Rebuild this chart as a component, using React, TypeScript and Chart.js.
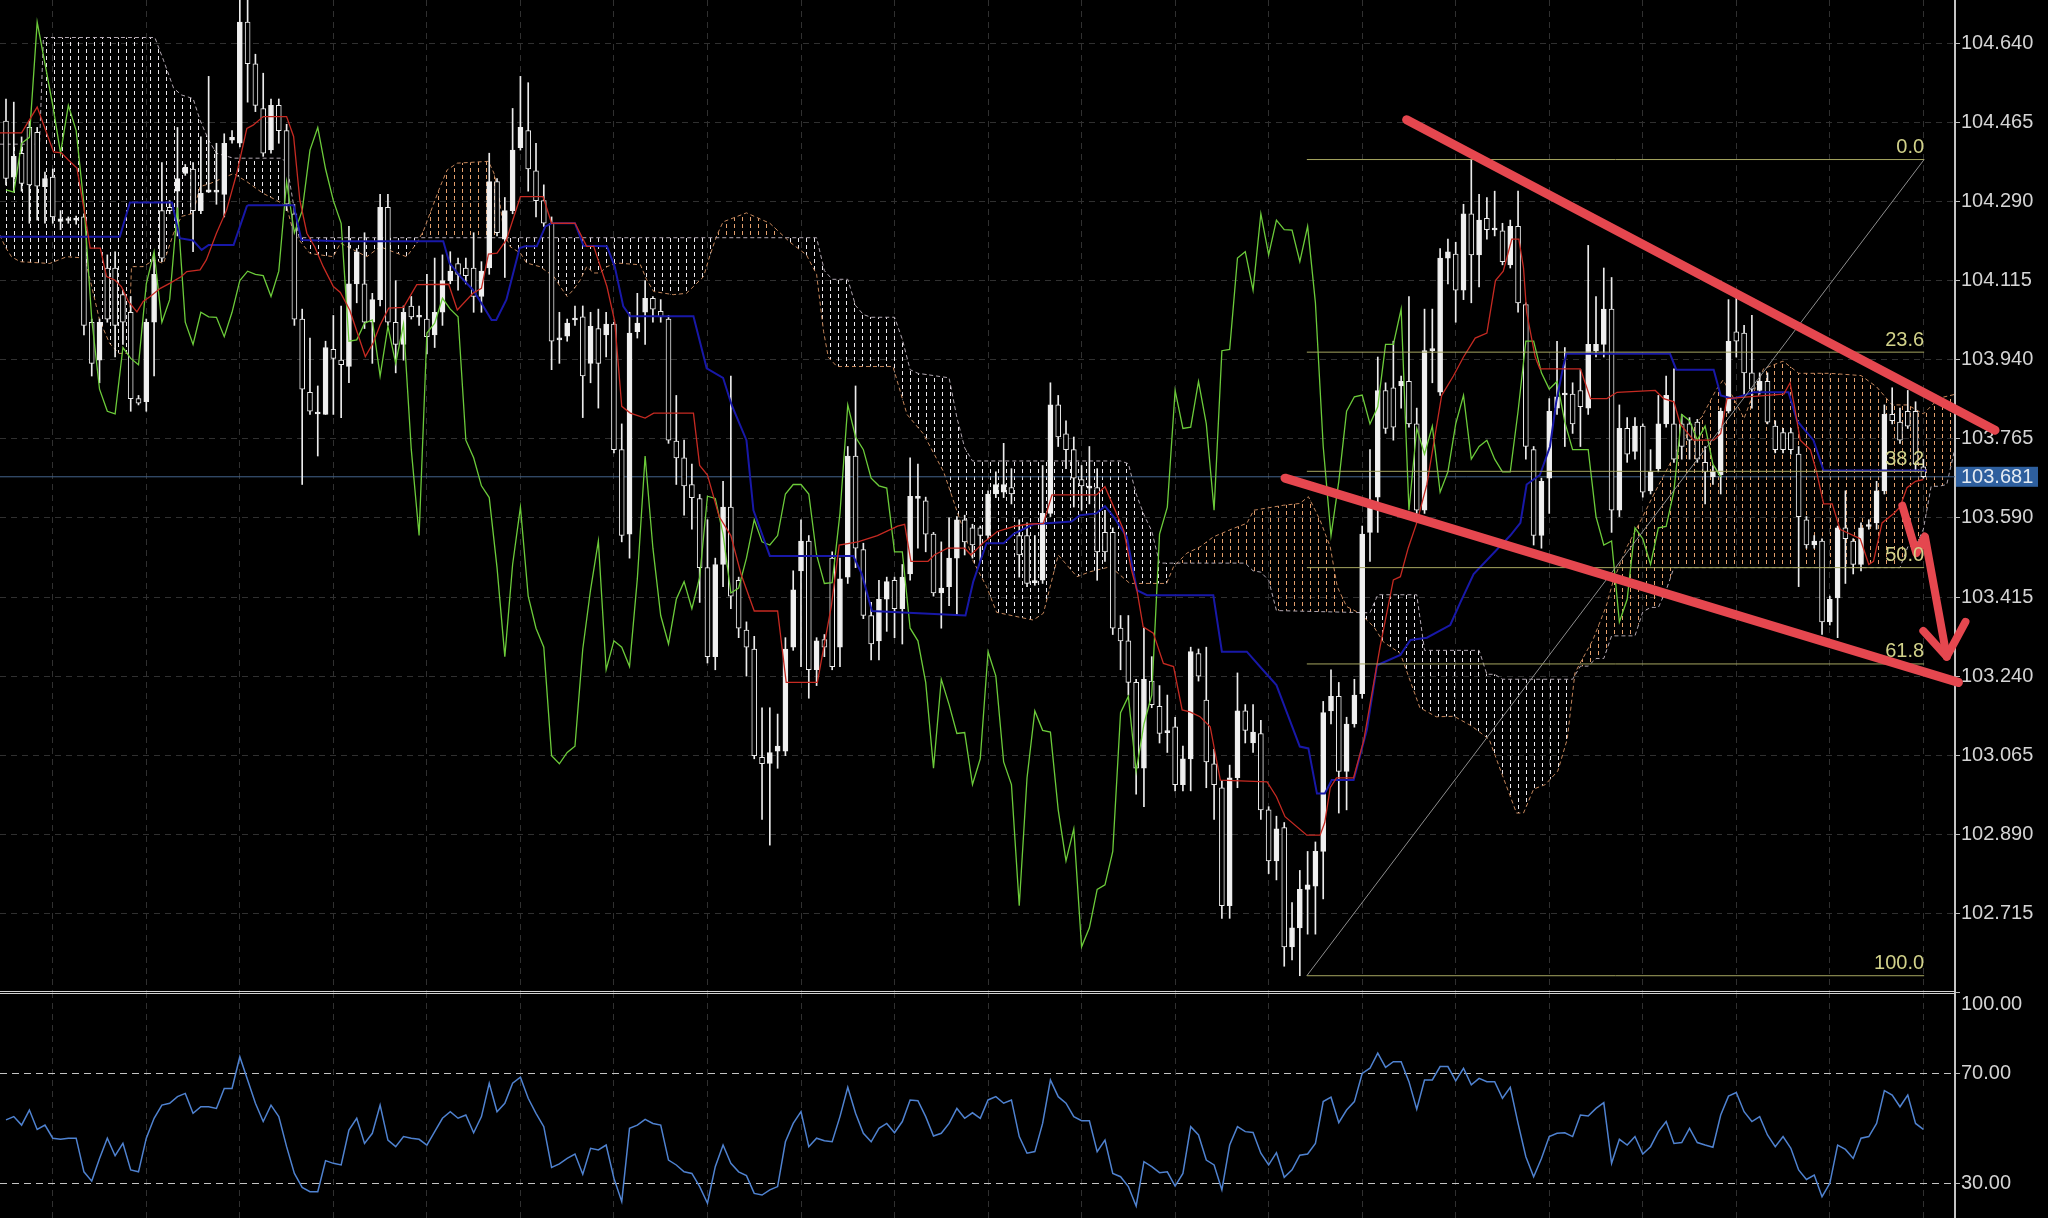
import React, { useEffect, useRef } from 'react';
import { Chart, registerables } from 'chart.js';

Chart.register(...registerables);

const W = 2048;
const H = 1218;
const PRICE_H = 992;
const RSI_H = 226;
const AXIS_W = 93;
const FONT = "'Liberation Sans', Arial, sans-serif";

const X_MIN = -0.77;
const X_MAX = 250.06;
const Y_MIN = 102.541;
const Y_MAX = 104.736;
const RSI_MIN = 17.3;
const RSI_MAX = 100;

const opens = [
  104.468,104.344,104.397,104.454,104.443,104.323,104.344,104.252,104.250,104.249,
  104.256,104.023,103.939,104.143,104.143,104.084,104.045,103.854,103.847,104.023,
  104.270,104.277,104.313,104.352,104.362,104.270,104.311,104.313,104.306,104.426,
  104.419,104.687,104.595,104.496,104.404,104.503,104.447,104.263,104.030,103.868,
  103.822,103.819,103.963,103.939,103.925,104.108,104.108,104.023,104.073,104.277,
  104.023,103.974,104.059,104.036,104.030,103.995,104.045,104.115,104.153,104.143,
  104.143,104.080,104.143,104.334,104.207,104.270,104.409,104.447,104.358,104.292,
  104.242,103.986,103.992,104.031,104.035,103.932,104.009,103.995,104.019,103.741,
  103.554,104.002,104.045,104.076,104.047,104.030,103.760,103.723,103.664,103.633,
  103.480,103.283,103.487,103.614,103.452,103.342,103.300,103.060,103.047,103.074,
  103.074,103.304,103.473,103.539,103.254,103.321,103.501,103.304,103.459,103.727,
  103.520,103.374,103.318,103.410,103.452,103.389,103.466,103.638,103.628,103.554,
  103.424,103.438,103.501,103.586,103.568,103.568,103.551,103.643,103.647,103.657,
  103.551,103.551,103.449,103.452,103.600,103.840,103.776,103.741,103.675,103.658,
  103.657,103.558,103.558,103.346,103.318,103.226,103.036,103.229,103.173,103.117,
  103.128,103.000,103.057,103.290,103.187,103.046,102.993,102.732,103.015,103.163,
  103.092,103.113,102.944,102.831,102.905,102.641,102.683,102.768,102.775,102.852,
  103.163,103.195,103.029,103.134,103.201,103.558,103.636,103.872,103.878,103.882,
  103.892,103.798,103.607,103.960,103.868,104.165,104.174,104.094,104.263,104.172,
  104.253,104.229,104.225,104.150,104.235,104.062,103.741,103.551,103.678,103.833,
  103.864,103.864,103.872,103.833,103.960,103.974,104.052,103.607,103.788,103.737,
  103.793,103.650,103.699,103.798,103.798,103.798,103.798,103.802,103.713,103.681,
  103.685,103.826,104.002,103.999,103.911,103.872,103.892,103.793,103.779,103.779,
  103.731,103.586,103.530,103.539,103.360,103.413,103.568,103.539,103.487,103.573,
  103.579,103.650,103.819,103.802,103.826,103.826,103.703,
];

const highs = [
  104.517,104.510,104.433,104.468,104.454,104.355,104.362,104.270,104.256,104.258,
  104.263,104.030,104.030,104.172,104.179,104.094,104.080,103.861,104.030,104.172,
  104.376,104.292,104.454,104.372,104.376,104.433,104.567,104.419,104.440,104.447,
  104.760,104.760,104.616,104.574,104.517,104.517,104.461,104.284,104.052,103.988,
  103.882,103.981,104.038,104.059,104.235,104.186,104.221,104.087,104.306,104.306,
  104.115,104.059,104.080,104.059,104.129,104.165,104.172,104.179,104.165,104.165,
  104.221,104.157,104.397,104.341,104.299,104.496,104.567,104.553,104.419,104.327,
  104.256,104.045,104.030,104.059,104.059,104.045,104.052,104.045,104.023,103.798,
  104.045,104.087,104.115,104.080,104.073,104.038,103.861,103.762,103.709,103.642,
  103.586,103.501,103.671,103.904,103.459,103.360,103.328,103.170,103.170,103.156,
  103.325,103.473,103.586,103.551,103.325,103.332,103.515,103.501,103.748,103.882,
  103.534,103.403,103.452,103.459,103.459,103.487,103.723,103.709,103.636,103.558,
  103.537,103.590,103.593,103.596,103.576,103.572,103.650,103.692,103.755,103.699,
  103.586,103.579,103.551,103.706,103.889,103.861,103.805,103.769,103.706,103.748,
  103.699,103.607,103.568,103.374,103.374,103.233,103.346,103.283,103.219,103.198,
  103.149,103.085,103.304,103.300,103.304,103.078,103.008,103.043,103.247,103.177,
  103.177,103.142,102.951,102.930,102.916,102.739,102.810,102.852,102.873,103.184,
  103.254,103.226,103.149,103.233,103.572,103.741,103.946,103.889,103.981,103.904,
  104.080,103.833,104.052,104.052,104.186,104.207,104.200,104.284,104.383,104.306,
  104.299,104.313,104.242,104.249,104.313,104.066,103.748,103.678,103.854,103.981,
  103.967,103.889,103.918,104.193,104.080,104.143,104.122,103.840,103.812,103.812,
  103.798,103.741,103.861,103.904,103.920,103.819,103.812,103.808,103.748,103.706,
  103.833,104.073,104.076,104.016,104.038,103.911,103.911,103.805,103.788,103.788,
  103.748,103.593,103.551,103.544,103.417,103.572,103.650,103.544,103.579,103.586,
  103.671,103.840,103.878,103.833,103.872,103.847,103.720,
];

const lows = [
  104.327,104.313,104.313,104.242,104.249,104.242,104.242,104.228,104.242,104.240,
  103.995,103.904,103.889,104.023,103.946,103.974,103.826,103.840,103.826,103.904,
  104.157,104.263,104.214,104.348,104.179,104.263,104.310,104.284,104.256,104.419,
  104.411,104.510,104.489,104.390,104.397,104.419,104.270,104.016,103.664,103.819,
  103.727,103.819,103.819,103.812,103.889,104.066,104.009,103.932,104.059,104.016,
  103.911,103.939,104.030,104.016,103.953,103.967,104.016,104.108,104.094,104.108,
  104.045,104.045,104.129,104.214,104.122,104.263,104.404,104.313,104.256,104.235,
  103.918,103.932,103.981,104.016,103.812,103.889,103.833,103.946,103.734,103.537,
  103.501,103.988,103.974,104.023,104.023,103.755,103.664,103.596,103.565,103.403,
  103.269,103.254,103.438,103.389,103.325,103.240,103.057,102.923,102.866,103.036,
  103.064,103.297,103.261,103.191,103.219,103.283,103.254,103.261,103.445,103.480,
  103.367,103.276,103.276,103.339,103.325,103.311,103.452,103.523,103.515,103.417,
  103.346,103.396,103.374,103.508,103.501,103.494,103.544,103.635,103.635,103.621,
  103.459,103.438,103.441,103.445,103.593,103.748,103.699,103.614,103.607,103.621,
  103.452,103.494,103.332,103.254,103.198,102.979,102.951,103.170,103.092,103.071,
  102.986,102.986,102.986,103.229,102.993,102.923,102.704,102.704,102.993,103.092,
  103.071,102.923,102.803,102.789,102.598,102.612,102.577,102.669,102.669,102.747,
  103.134,102.937,102.944,103.127,103.191,103.494,103.558,103.777,103.762,103.833,
  103.791,103.600,103.600,103.889,103.861,104.108,104.023,104.073,104.066,104.101,
  104.207,104.214,104.150,104.143,104.045,103.720,103.530,103.523,103.600,103.819,
  103.748,103.777,103.748,103.819,103.946,103.946,103.558,103.593,103.713,103.720,
  103.636,103.643,103.692,103.791,103.713,103.720,103.720,103.713,103.621,103.664,
  103.643,103.822,103.946,103.861,103.833,103.864,103.798,103.734,103.734,103.731,
  103.438,103.523,103.523,103.332,103.353,103.325,103.445,103.466,103.473,103.565,
  103.565,103.643,103.798,103.755,103.788,103.692,103.678,
];

const closes = [
  104.341,104.390,104.330,104.327,104.324,104.341,104.256,104.246,104.248,104.251,
  104.016,103.932,104.023,104.030,104.016,104.023,103.854,103.844,104.023,104.129,
  104.165,104.270,104.341,104.366,104.270,104.308,104.316,104.311,104.419,104.432,
  104.687,104.595,104.503,104.397,104.503,104.447,104.284,104.030,103.875,103.826,
  103.820,103.967,103.943,103.929,104.108,104.179,104.023,104.073,104.277,104.023,
  103.974,104.045,104.035,104.034,103.991,104.045,104.115,104.136,104.129,104.126,
  104.080,104.136,104.334,104.221,104.270,104.404,104.454,104.362,104.292,104.242,
  103.981,103.984,104.021,104.028,103.904,104.014,103.932,104.019,103.741,103.551,
  103.999,104.021,104.076,104.052,104.035,103.762,103.723,103.661,103.635,103.480,
  103.283,103.487,103.614,103.417,103.346,103.304,103.064,103.046,103.071,103.085,
  103.300,103.431,103.539,103.254,103.318,103.304,103.261,103.455,103.727,103.523,
  103.374,103.311,103.410,103.449,103.389,103.459,103.638,103.633,103.554,103.424,
  103.435,103.501,103.586,103.537,103.530,103.551,103.643,103.664,103.664,103.643,
  103.508,103.445,103.447,103.600,103.840,103.769,103.741,103.678,103.661,103.656,
  103.515,103.515,103.346,103.318,103.226,103.036,103.233,103.177,103.113,103.115,
  103.000,103.057,103.294,103.240,103.050,103.000,102.732,103.015,103.163,103.120,
  103.116,102.944,102.831,102.902,102.641,102.683,102.768,102.778,102.852,103.159,
  103.195,103.029,103.134,103.198,103.554,103.614,103.872,103.788,103.791,103.892,
  103.798,103.607,103.960,103.963,104.165,104.179,104.094,104.263,104.172,104.249,
  104.228,104.227,104.157,104.235,104.066,103.748,103.551,103.671,103.826,103.858,
  103.862,103.798,103.836,103.974,103.974,104.052,103.607,103.788,103.731,103.793,
  103.647,103.692,103.798,103.861,103.720,103.748,103.762,103.720,103.692,103.692,
  103.826,103.981,103.981,103.911,103.875,103.892,103.802,103.741,103.741,103.741,
  103.593,103.530,103.539,103.360,103.410,103.568,103.544,103.487,103.568,103.571,
  103.650,103.819,103.805,103.762,103.793,103.709,103.681,
];

const rsiValues = [
  53.2,54.4,51.3,56.8,49.7,51.3,46.5,46.1,46.5,46.5,
  34.2,30.8,39.1,46.5,40.1,44.6,34.9,34.2,46.5,53.8,
  58.6,59.3,61.7,62.9,55.6,58.0,58.0,57.4,64.7,64.7,
  76.3,67.8,59.3,52.6,58.6,54.4,43.4,33.6,28.5,26.9,
  26.9,38.3,37.3,36.7,49.5,53.8,44.6,48.3,58.6,45.8,
  43.4,47.1,46.5,46.1,44.0,48.9,53.8,56.2,53.8,55.0,
  48.5,54.4,66.6,56.2,59.3,66.6,68.8,61.1,55.6,50.7,
  35.8,37.1,39.1,40.7,33.3,42.8,42.2,44.0,31.8,23.3,
  50.1,51.3,53.4,51.9,51.3,38.5,36.7,34.2,33.6,28.8,
  22.7,36.1,44.0,37.3,34.2,32.8,26.3,25.7,27.6,28.8,
  45.2,51.9,56.2,43.4,46.5,45.6,45.2,54.4,65.1,55.6,
  48.3,45.2,50.1,51.9,48.5,52.6,60.5,60.2,54.4,47.3,
  48.3,51.9,57.4,53.8,55.8,53.8,60.5,61.7,59.3,60.5,
  47.1,41.0,41.6,51.9,67.8,61.7,59.3,54.4,52.9,52.9,
  41.6,45.8,33.6,32.4,28.8,21.7,37.9,36.1,33.9,34.2,
  29.0,33.6,50.7,47.7,38.5,36.7,27.6,44.0,50.7,48.9,
  48.6,41.0,36.7,41.2,32.2,34.9,40.3,40.7,44.6,59.9,
  61.5,52.2,56.8,59.9,70.2,72.1,77.6,72.4,74.5,74.5,
  67.2,57.1,67.8,67.8,72.7,72.7,67.5,72.1,66.0,68.4,
  67.2,67.2,61.1,65.1,51.9,39.7,32.4,39.1,47.1,48.3,
  48.5,47.1,55.0,54.6,57.4,59.5,37.3,46.1,44.0,47.1,
  40.7,43.4,48.9,52.6,44.6,44.9,50.1,44.9,44.0,43.2,
  55.0,61.9,63.2,56.2,52.6,54.4,47.7,43.4,47.1,42.8,
  34.9,31.4,33.0,25.1,30.0,44.0,42.4,39.1,46.5,47.1,
  51.9,63.9,62.3,58.0,62.3,51.9,49.7,
];

// Ichimoku lines read as [bar index, price] vertices
const tenkan = [
  [-0.77,104.442],[2.0,104.442],[4.0,104.499],[6.1,104.400],[7.1,104.398],[8.0,104.382],[9.1,104.364],[10.1,104.264],
  [10.8,104.187],[12.1,104.187],[12.9,104.124],[14.0,104.116],[14.8,104.102],[15.7,104.069],[16.8,104.046],[17.6,104.069],
  [18.5,104.080],[19.8,104.098],[21.0,104.109],[22.5,104.124],[23.2,104.135],[24.9,104.139],[25.7,104.161],[27.0,104.220],
  [28.3,104.271],[29.6,104.352],[30.9,104.452],[31.7,104.459],[33.0,104.478],[36.0,104.478],[36.9,104.434],[37.7,104.293],
  [38.6,104.220],[39.6,104.190],[40.7,104.146],[42.0,104.102],[42.9,104.089],[44.1,104.050],[46.1,103.947],[47.1,103.977],
  [48.0,104.017],[49.1,104.054],[51.0,104.056],[52.7,104.106],[56.8,104.107],[57.9,104.050],[59.9,104.087],[61.0,104.098],
  [61.9,104.174],[63.0,104.176],[64.2,104.205],[65.1,104.253],[66.0,104.301],[68.9,104.301],[70.0,104.242],[73.0,104.242],
  [74.5,104.191],[75.4,104.191],[77.1,104.102],[78.1,104.025],[79.0,103.837],[80.1,103.822],[82.0,103.811],[83.1,103.822],
  [88.2,103.822],[89.0,103.706],[90.0,103.685],[91.5,103.593],[93.0,103.551],[94.3,103.466],[96.0,103.384],[99.0,103.384],
  [100.1,103.226],[104.1,103.226],[105.9,103.396],[106.9,103.530],[109.3,103.537],[111.8,103.551],[114.4,103.572],[115.3,103.576],
  [116.1,103.494],[118.3,103.494],[119.1,103.508],[120.8,103.523],[123.0,103.523],[123.8,103.508],[125.5,103.537],[127.2,103.560],
  [129.3,103.571],[131.0,103.576],[133.1,103.578],[134.2,103.641],[139.9,103.641],[141.0,103.659],[142.1,103.615],[143.4,103.563],
  [144.4,103.475],[145.1,103.430],[145.9,103.349],[147.2,103.335],[148.5,103.268],[149.8,103.261],[150.9,103.165],[151.9,103.161],
  [153.2,103.150],[154.5,103.128],[155.8,103.010],[161.8,103.006],[163.0,102.973],[164.1,102.929],[166.9,102.888],[168.6,102.888],
  [169.2,102.916],[169.9,102.993],[170.7,103.015],[172.9,103.015],[174.2,103.098],[176.3,103.305],[178.0,103.453],[178.9,103.460],
  [179.9,103.523],[181.0,103.579],[182.3,103.664],[184.2,103.861],[185.7,103.904],[187.0,103.946],[188.5,103.988],[190.0,103.999],
  [191.1,104.115],[192.1,104.136],[193.2,104.207],[194.1,104.207],[194.7,104.143],[195.1,104.045],[196.2,103.946],[196.8,103.920],
  [202.0,103.920],[203.3,103.854],[205.4,103.854],[206.7,103.868],[211.6,103.872],[212.7,103.854],[214.0,103.847],[214.8,103.798],
  [216.5,103.762],[219.1,103.762],[220.0,103.777],[220.8,103.854],[225.9,103.861],[228.1,103.864],[228.9,103.889],[229.5,103.833],
  [230.2,103.762],[231.5,103.741],[232.3,103.692],[233.2,103.621],[234.3,103.621],[235.3,103.565],[237.9,103.544],[239.0,103.487],
  [239.6,103.494],[240.7,103.579],[242.2,103.600],[243.0,103.614],[243.9,103.657],[245.0,103.671],[246.0,103.675],
];

const kijun = [
  [-0.77,104.212],[14.6,104.212],[15.9,104.288],[21.3,104.288],[22.3,104.209],[24.0,104.204],[25.1,104.183],[26.0,104.194],
  [29.2,104.194],[30.9,104.280],[31.1,104.282],[36.9,104.282],[37.9,104.205],[42.9,104.202],[56.1,104.202],[56.9,104.154],
  [58.3,104.124],[59.9,104.095],[61.0,104.065],[62.3,104.028],[62.9,104.028],[64.2,104.073],[65.9,104.187],[66.6,104.191],
  [68.1,104.191],[69.2,104.235],[70.0,104.242],[73.0,104.242],[74.1,104.192],[77.1,104.191],[78.1,104.146],[79.2,104.058],
  [80.1,104.036],[88.2,104.036],[89.9,103.921],[92.0,103.900],[93.1,103.840],[95.0,103.762],[95.9,103.607],[98.0,103.506],
  [108.7,103.506],[109.8,103.466],[111.1,103.384],[123.1,103.374],[124.1,103.449],[125.8,103.534],[128.0,103.534],[129.3,103.555],
  [131.8,103.576],[136.7,103.582],[137.8,103.596],[139.9,103.600],[141.0,103.616],[142.1,103.593],[143.8,103.548],[145.1,103.430],
  [146.4,103.419],[154.9,103.419],[156.0,103.294],[159.2,103.294],[161.3,103.253],[163.0,103.220],[166.0,103.084],[167.1,103.080],
  [168.2,102.980],[169.2,102.980],[170.1,103.010],[172.9,103.010],[174.6,103.121],[175.9,103.264],[178.9,103.287],[180.2,103.320],
  [182.3,103.325],[185.3,103.353],[186.6,103.403],[188.3,103.466],[193.0,103.551],[194.3,103.579],[195.1,103.664],[196.8,103.685],
  [198.1,103.748],[198.9,103.847],[199.8,103.925],[200.2,103.953],[213.5,103.953],[214.3,103.918],[219.1,103.918],[220.0,103.861],
  [221.6,103.854],[224.2,103.868],[228.7,103.868],[229.8,103.805],[230.6,103.788],[231.9,103.762],[233.2,103.695],[246.4,103.695],
];

const spanA = [
  [-0.8,104.216],[-0.1,104.19],[0.7,104.168],[1.8,104.157],[5.6,104.153],[7.8,104.168],[10.1,104.165],[11,104.102],
  [12,104.028],[13.3,103.976],[14.5,103.954],[15.7,103.954],[16.1,104.146],[17.6,104.146],[19,104.161],[20.2,104.153],
  [21.5,104.22],[22.5,104.257],[24,104.264],[24.9,104.323],[26.2,104.33],[29.2,104.352],[30.9,104.334],[33,104.308],
  [34.7,104.293],[36,104.279],[36.9,104.22],[39,104.175],[42,104.168],[42.9,104.198],[44.6,104.183],[46.3,104.168],
  [48,104.19],[50.1,104.176],[51.4,104.168],[52.7,104.198],[53.6,104.227],[54.4,104.264],[55.7,104.323],[56.6,104.36],
  [57.9,104.375],[61.9,104.379],[62.6,104.353],[63.2,104.308],[63.9,104.22],[64.7,104.19],[66,104.176],[66.8,104.154],
  [68.5,104.146],[70.3,104.124],[71.1,104.102],[72,104.08],[72.8,104.095],[73.7,104.117],[74.5,104.146],[75.4,104.132],
  [76.2,104.132],[77.1,104.146],[78.4,104.154],[81.4,104.15],[82.2,104.117],[83.1,104.091],[85.6,104.084],[87.3,104.087],
  [88.2,104.102],[89.5,104.124],[90.3,104.17],[91.2,104.215],[92,104.245],[95,104.265],[98,104.242],[100.6,104.2],
  [102.7,104.172],[104,104.129],[104.9,104.002],[105.5,103.946],[106.6,103.925],[113.8,103.925],[115.6,103.819],[117.7,103.776],
  [120.3,103.692],[122.8,103.565],[124.1,103.494],[125.8,103.438],[127.1,103.381],[131.8,103.364],[133.1,103.379],[135,103.508],
  [136.1,103.486],[137.4,103.46],[139.1,103.471],[141.7,103.482],[144.2,103.445],[148.9,103.445],[149.8,103.482],[151.5,103.512],
  [153.2,103.526],[154.9,103.548],[157.5,103.567],[159.2,103.578],[160.1,103.607],[163.9,103.618],[166,103.622],[167.1,103.637],
  [168.6,103.585],[169.9,103.526],[170.8,103.438],[172,103.394],[173.7,103.379],[175.5,103.349],[176.7,103.316],[178.9,103.29],
  [181.4,103.17],[183.5,103.15],[185.8,103.151],[188,103.13],[190.3,103.1],[192,103.02],[193.8,102.937],[194.7,102.937],
  [196,102.99],[197.5,103.0],[199.1,103.03],[200.3,103.1],[201.3,103.247],[202.2,103.276],[203.6,103.32],[205.3,103.394],
  [206.2,103.45],[208,103.527],[209.8,103.586],[211.5,103.645],[213.2,103.7],[215,103.763],[217.6,103.814],[219.4,103.873],
  [220.3,103.895],[221.5,103.86],[223,103.81],[224.5,103.88],[225.5,103.92],[228,103.937],[230,103.91],[234,103.91],
  [238,103.905],[240,103.88],[242,103.84],[244,103.84],[246,103.82],[248,103.855],[250.2,103.864],
];

const spanB = [
  [-0.8,104.417],[4.3,104.417],[4.8,104.653],[19.1,104.653],[20.2,104.603],[21.5,104.541],[22.5,104.526],[24.0,104.518],
  [24.9,104.470],[26.0,104.426],[27.0,104.397],[29.2,104.386],[35.4,104.386],[36.0,104.375],[37.6,104.21],[104,104.21],
  [105,104.137],[106,104.118],[108,104.118],[109,104.06],[110,104.04],[111,104.034],[114,104.034],[115,103.985],
  [116,103.918],[117,103.91],[121,103.90],[122,103.812],[123,103.745],[124,103.716],[143,103.716],[144,103.71],
  [145,103.643],[146,103.597],[147,103.561],[148,103.49],[159,103.49],[160,103.473],[161,103.47],[162,103.452],
  [163,103.385],[175,103.38],[176,103.42],[181,103.42],[182,103.297],[189,103.297],[190,103.244],[191,103.244],
  [192,103.233],[201,103.233],[202,103.262],[203,103.262],[204,103.279],[205,103.279],[206,103.329],[209,103.329],
  [210,103.382],[211,103.392],[212,103.392],[213,103.43],[214,103.48],[243,103.48],[244,103.526],[245,103.526],
  [246,103.565],[247,103.66],[248,103.66],[249,103.664],[250.2,103.755],
];

const priceTicks = [102.715,102.890,103.065,103.240,103.415,103.590,103.765,103.940,104.115,104.290,104.465,104.640];
const rsiTicks = [100, 70, 30];
const gridBars = [6,18,30,42,54,66,78,90,102,114,126,138,150,162,174,186,198,210,222,234,246];

const fibHigh = 104.383;
const fibLow = 102.577;
const fibStart = 166.9;
const fibEnd = 246.1;
const fibRatios = [0, 23.6, 38.2, 50, 61.8, 100];

const upperTrend = [[179.7,104.471],[255.2,103.784]];
const lowerTrend = [[164.1,103.678],[250.5,103.226]];
const arrowShaft = [[243.3,103.617],[245.1,103.512],[246.2,103.549],[249.0,103.283]];
const arrowHead = [[246.0,103.340],[249.0,103.283],[251.4,103.360]];

const CHIKOU_SHIFT = 26;

const pts = (arr: number[][]) => arr.map(([x, y]) => ({ x, y }));

function hatch(ctx: CanvasRenderingContext2D, color: string) {
  const c = document.createElement('canvas');
  c.width = 8;
  c.height = 7;
  const g = c.getContext('2d')!;
  g.fillStyle = color;
  g.fillRect(0, 0, 1, 4);
  const p = ctx.createPattern(c, 'repeat')!;
  try {
    p.setTransform(new DOMMatrix([1, 0, 0, 1, 6, 0]));
  } catch (e) {}
  return p;
}

const lineDs = (data: any[], color: string, width: number, order: number, extra: any = {}) => ({
  type: 'line',
  data,
  borderColor: color,
  borderWidth: width,
  pointRadius: 0,
  tension: 0,
  fill: false,
  order,
  ...extra,
});

const xScale = () => ({
  type: 'linear',
  min: X_MIN,
  max: X_MAX,
  bounds: 'data',
  offset: false,
  afterBuildTicks: (s: any) => { s.ticks = gridBars.map((v) => ({ value: v })); },
  afterFit: (s: any) => { s.height = 0; s.paddingLeft = 0; s.paddingRight = 0; },
  ticks: { display: false },
  grid: { color: '#303030', lineWidth: 1, drawTicks: false, offset: false },
  border: { display: false, dash: [6, 5] },
});

export default function App() {
  const priceRef = useRef<HTMLCanvasElement>(null);
  const rsiRef = useRef<HTMLCanvasElement>(null);

  useEffect(() => {
    document.body.style.margin = '0';
    document.body.style.background = '#000';
    const pc = priceRef.current!;
    const rc = rsiRef.current!;
    const pctx = pc.getContext('2d')!;
    const orangeHatch = hatch(pctx, 'rgba(228,160,110,1)');
    const thistleHatch = hatch(pctx, 'rgba(238,234,238,1)');

    const last = closes[closes.length - 1];
    const bodies = opens.map((o, i) => ({ x: i, y: [Math.min(o, closes[i]), Math.max(o, closes[i])] }));
    const wicks = highs.map((h, i) => ({ x: i, y: [lows[i], h] }));
    const bodyColors = opens.map((o, i) =>
      closes[i] >= o || Math.abs(closes[i] - o) < 0.007 ? '#f0f0f0' : '#000000'
    );
    const chikou = closes.slice(CHIKOU_SHIFT).map((c, k) => ({ x: k, y: c }));
    const fibLevels = fibRatios.map((r) => fibHigh - (r / 100) * (fibHigh - fibLow));

    const overlay = {
      id: 'overlay',
      afterDatasetsDraw(chart: any) {
        const { ctx, scales } = chart;
        ctx.save();
        ctx.font = `20px ${FONT}`;
        ctx.fillStyle = '#d2d28a';
        ctx.textAlign = 'right';
        ctx.textBaseline = 'bottom';
        const xr = scales.x.getPixelForValue(fibEnd);
        fibRatios.forEach((r, k) => {
          ctx.fillText(r.toFixed(1), xr, scales.y.getPixelForValue(fibLevels[k]) - 2);
        });
        ctx.restore();
      },
      afterDraw(chart: any) {
        const { ctx, scales, chartArea } = chart;
        const py = scales.y.getPixelForValue(last);
        ctx.save();
        ctx.fillStyle = '#2e5f9e';
        ctx.fillRect(chartArea.right + 1, py - 10, 82, 20);
        ctx.fillStyle = '#e4ebf3';
        ctx.font = `20px ${FONT}`;
        ctx.textAlign = 'left';
        ctx.textBaseline = 'middle';
        ctx.fillText(last.toFixed(3), chartArea.right + 6, py + 1);
        ctx.fillStyle = '#d0d0d0';
        ctx.fillRect(0, chart.height - 1, chartArea.right, 1);
        ctx.restore();
      },
    };

    const red = '#e5474f';
    const priceChart = new Chart(pc, {
      type: 'line',
      data: {
        datasets: [
          lineDs(pts(spanA), 'rgba(205,140,95,0.95)', 1, 20, {
            borderDash: [4, 3],
            fill: { target: 1, above: orangeHatch, below: thistleHatch },
          }),
          lineDs(pts(spanB), 'rgba(185,175,185,0.95)', 1, 19, { borderDash: [4, 3] }),
          lineDs([{ x: X_MIN, y: last }, { x: X_MAX, y: last }], '#44648c', 1, 15),
          {
            type: 'bar',
            data: wicks,
            backgroundColor: '#ececec',
            borderWidth: 0,
            barThickness: 1,
            grouped: false,
            order: 12,
          },
          {
            type: 'bar',
            data: bodies,
            backgroundColor: bodyColors,
            borderColor: '#ececec',
            borderWidth: 1,
            borderSkipped: false,
            barThickness: 5,
            minBarLength: 2,
            grouped: false,
            order: 11,
          },
          lineDs(chikou, '#6ccb3a', 1.3, 8),
          lineDs(pts(kijun), '#1818a8', 2, 7),
          lineDs(pts(tenkan), '#c62a22', 1.3, 6),
          ...fibLevels.map((lv) => lineDs([{ x: fibStart, y: lv }, { x: fibEnd, y: lv }], '#a6a660', 1, 5)),
          lineDs([{ x: fibStart, y: fibLow }, { x: fibEnd, y: fibHigh }], '#8e8e8e', 1, 5),
          lineDs(pts(upperTrend), red, 9, 1, { clip: false, borderCapStyle: 'round' }),
          lineDs(pts(lowerTrend), red, 9, 1, { clip: false, borderCapStyle: 'round' }),
          lineDs(pts(arrowShaft), red, 8, 0, { clip: false, borderCapStyle: 'round', borderJoinStyle: 'round' }),
          lineDs(pts(arrowHead), red, 8, 0, { clip: false, borderCapStyle: 'round', borderJoinStyle: 'round' }),
        ],
      } as any,
      options: {
        animation: false,
        responsive: false,
        maintainAspectRatio: false,
        devicePixelRatio: 1,
        events: [],
        layout: { padding: 0, autoPadding: false },
        plugins: { legend: { display: false }, tooltip: { enabled: false } },
        scales: {
          x: xScale(),
          y: {
            type: 'linear',
            position: 'right',
            min: Y_MIN,
            max: Y_MAX,
            bounds: 'data',
            afterBuildTicks: (s: any) => { s.ticks = priceTicks.map((v) => ({ value: v })); },
            afterFit: (s: any) => { s.width = AXIS_W; s.paddingTop = 0; s.paddingBottom = 0; },
            ticks: {
              autoSkip: false,
              padding: 1,
              color: '#d4d4d4',
              font: { family: FONT, size: 20 },
              callback: (v: any) => Number(v).toFixed(3),
            },
            grid: { color: '#303030', lineWidth: 1, drawTicks: true, tickLength: 5, tickColor: '#bdbdbd', tickWidth: 1 },
            border: { display: true, color: '#c4c4c4', width: 2, dash: [6, 5] },
          },
        },
      } as any,
      plugins: [overlay],
    } as any);

    const rsiOverlay = {
      id: 'rsiOverlay',
      afterDraw(chart: any) {
        const { ctx, chartArea } = chart;
        ctx.save();
        ctx.fillStyle = '#d0d0d0';
        ctx.fillRect(0, 1, chartArea.right, 1);
        ctx.restore();
      },
    };

    const rsiChart = new Chart(rc, {
      type: 'line',
      data: {
        datasets: [
          lineDs(rsiValues.map((v, i) => ({ x: i, y: v })), '#4f82d0', 1.5, 0),
        ],
      } as any,
      options: {
        animation: false,
        responsive: false,
        maintainAspectRatio: false,
        devicePixelRatio: 1,
        events: [],
        layout: { padding: 0, autoPadding: false },
        plugins: { legend: { display: false }, tooltip: { enabled: false } },
        scales: {
          x: xScale(),
          y: {
            type: 'linear',
            position: 'right',
            min: RSI_MIN,
            max: RSI_MAX,
            bounds: 'data',
            afterBuildTicks: (s: any) => { s.ticks = rsiTicks.map((v) => ({ value: v })); },
            afterFit: (s: any) => { s.width = AXIS_W; s.paddingTop = 0; s.paddingBottom = 0; },
            ticks: {
              autoSkip: false,
              padding: 1,
              color: '#d4d4d4',
              font: { family: FONT, size: 20 },
              callback: (v: any) => (Number(v) === 100 ? ['', Number(v).toFixed(2)] : Number(v).toFixed(2)),
            },
            grid: {
              color: (c: any) => (c.tick && c.tick.value === 100 ? 'rgba(0,0,0,0)' : '#c4c4c4'),
              lineWidth: 1,
              drawTicks: true,
              tickLength: 5,
              tickColor: '#bdbdbd',
            },
            border: { display: true, color: '#c4c4c4', width: 2, dash: [7, 5] },
          },
        },
      } as any,
      plugins: [rsiOverlay],
    } as any);

    return () => {
      priceChart.destroy();
      rsiChart.destroy();
    };
  }, []);

  return (
    <div style={{ position: 'fixed', left: 0, top: 0, width: W, height: H, background: '#000', overflow: 'hidden' }}>
      <canvas
        ref={priceRef}
        width={W}
        height={PRICE_H}
        style={{ position: 'absolute', left: 0, top: 0, width: W, height: PRICE_H }}
      />
      <canvas
        ref={rsiRef}
        width={W}
        height={RSI_H}
        style={{ position: 'absolute', left: 0, top: PRICE_H, width: W, height: RSI_H }}
      />
    </div>
  );
}
